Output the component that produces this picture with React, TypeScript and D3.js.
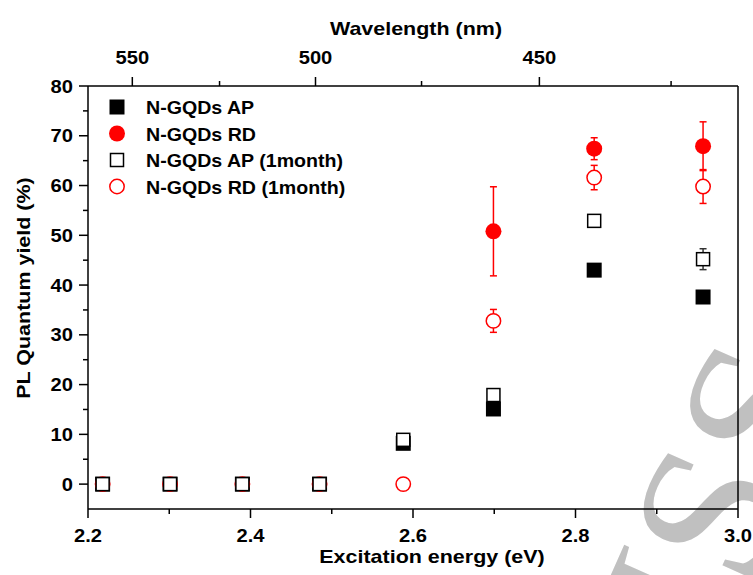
import React from "react";
import * as d3 from "d3";

// chart data
const energy = [2.218, 2.301, 2.39, 2.485, 2.588, 2.699, 2.823, 2.957];
const apFresh = [0, 0, 0, 0, 8.2, 15.1, 43.0, 37.6];
const rdFresh = [null, null, null, null, null, 50.8, 67.4, 67.9];
const rdFreshErr = [0, 0, 0, 0, 0, 8.95, 2.2, 4.9];
const apMonth = [0, 0, 0, 0, 8.9, 17.9, 52.9, 45.2];
const apMonthErr = [0, 0, 0, 0, 0, 0, 0, 2.1];
const rdMonth = [0, 0, 0, 0, 0, 32.8, 61.6, 59.8];
const rdMonthErr = [0, 0, 0, 0, 0, 2.3, 2.45, 3.4];

const energyTicks = [2.2, 2.4, 2.6, 2.8, 3.0];
const energyMinor = [2.3, 2.5, 2.7, 2.9];
const yieldTicks = [0, 10, 20, 30, 40, 50, 60, 70, 80];
const yieldMinor = [5, 15, 25, 35, 45, 55, 65, 75];
const waveTicks = [550, 500, 450];
const waveMinor = [525, 475, 425];
const legendLabels = ["N-GQDs AP", "N-GQDs RD", "N-GQDs AP (1month)", "N-GQDs RD (1month)"];

const W = 753;
const H = 575;
const margin = { top: 86, right: 15, bottom: 66, left: 88 };
const font = "'Liberation Sans', Arial, sans-serif";
const red = "#ff0000";

const x = d3.scaleLinear().domain([2.2, 3.0]).range([margin.left, W - margin.right]);
const y = d3.scaleLinear().domain([-5, 80]).range([H - margin.bottom, margin.top]);
const toEv = (nm: number) => 1240 / nm;

// text drawn slightly stretched, like the source image
const Label = ({ tx, ty, size, sx = 1.12, anchor = "middle", rot = 0, children }: any) => (
    <text
        transform={`translate(${tx},${ty}) rotate(${rot}) scale(${sx},1)`}
        textAnchor={anchor}
        fontFamily={font}
        fontWeight="bold"
        fontSize={size}
        fill="#000"
    >
        {children}
    </text>
);

const Marker = ({ kind, cx, cy }: any) => {
    if (kind === 0) return <rect x={cx - 7.5} y={cy - 7.5} width={15} height={15} fill="#000" />;
    if (kind === 1) return <circle cx={cx} cy={cy} r={8} fill={red} />;
    if (kind === 2)
        return <rect x={cx - 6.5} y={cy - 6.5} width={13} height={13} fill="#fff" stroke="#000" strokeWidth={1.5} />;
    return <circle cx={cx} cy={cy} r={7.2} fill="#fff" stroke={red} strokeWidth={1.5} />;
};

const ErrorBars = ({ values, errs, color }: any) => (
    <g stroke={color} strokeWidth={1.5}>
        {values.map((v: number | null, i: number) => {
            if (v === null || !errs[i]) return null;
            const cx = x(energy[i]);
            const y1 = y(v + errs[i]);
            const y2 = y(v - errs[i]);
            return (
                <g key={i}>
                    <line x1={cx} x2={cx} y1={y1} y2={y2} />
                    <line x1={cx - 3.5} x2={cx + 3.5} y1={y1} y2={y1} />
                    <line x1={cx - 3.5} x2={cx + 3.5} y1={y2} y2={y2} />
                </g>
            );
        })}
    </g>
);

const Series = ({ values, kind }: any) => (
    <g>
        {values.map((v: number | null, i: number) =>
            v === null ? null : <Marker key={i} kind={kind} cx={x(energy[i])} cy={y(v)} />
        )}
    </g>
);

export default function App() {
    const [x0, x1] = x.range();
    const [yb, yt] = y.range();
    const legendX = 117;
    const legendY = [107, 133.5, 160, 186.5];

    return (
        <svg width={W} height={H} style={{ position: "absolute", left: 0, top: 0, background: "#fff" }}>
            {/* watermark, behind everything */}
            <text
                transform="translate(722,655) rotate(-66)"
                fontFamily="'Liberation Serif', 'DejaVu Serif', serif"
                fontSize={205}
                fill="#c0c0c0"
            >
                ISS
            </text>

            {/* frame */}
            <g stroke="#000" strokeWidth={1.5} fill="none">
                <line x1={x0} x2={x1} y1={yb} y2={yb} />
                <line x1={x0} x2={x1} y1={yt} y2={yt} />
                <line x1={x0} x2={x0} y1={yb} y2={yt} />
                <line x1={x1} x2={x1} y1={yb} y2={yt} />

                {energyTicks.map((t) => (
                    <line key={t} x1={x(t)} x2={x(t)} y1={yb} y2={yb + 9} />
                ))}
                {energyMinor.map((t) => (
                    <line key={t} x1={x(t)} x2={x(t)} y1={yb} y2={yb + 5} />
                ))}
                {yieldTicks.map((t) => (
                    <line key={t} x1={x0 - 9} x2={x0} y1={y(t)} y2={y(t)} />
                ))}
                {yieldMinor.map((t) => (
                    <line key={t} x1={x0 - 5} x2={x0} y1={y(t)} y2={y(t)} />
                ))}
                {waveTicks.map((t) => (
                    <line key={t} x1={x(toEv(t))} x2={x(toEv(t))} y1={yt} y2={yt - 9} />
                ))}
                {waveMinor.map((t) => (
                    <line key={t} x1={x(toEv(t))} x2={x(toEv(t))} y1={yt} y2={yt - 5} />
                ))}
            </g>

            {/* tick labels */}
            {energyTicks.map((t) => (
                <Label key={t} tx={x(t)} ty={542} size={18}>
                    {t.toFixed(1)}
                </Label>
            ))}
            {yieldTicks.map((t) => (
                <Label key={t} tx={73} ty={y(t) + 6.5} size={18} anchor="end">
                    {t}
                </Label>
            ))}
            {waveTicks.map((t) => (
                <Label key={t} tx={x(toEv(t))} ty={64} size={18}>
                    {t}
                </Label>
            ))}

            {/* axis titles */}
            <Label tx={432} ty={563} size={19} sx={1.13}>
                Excitation energy (eV)
            </Label>
            <Label tx={416} ty={35} size={19} sx={1.13}>
                Wavelength (nm)
            </Label>
            <Label tx={30} ty={288} size={19} sx={1.13} rot={-90}>
                PL Quantum yield (%)
            </Label>

            {/* data */}
            <ErrorBars values={rdFresh} errs={rdFreshErr} color={red} />
            <ErrorBars values={rdMonth} errs={rdMonthErr} color={red} />
            <ErrorBars values={apMonth} errs={apMonthErr} color="#333" />
            <Series values={apFresh} kind={0} />
            <Series values={rdFresh} kind={1} />
            <Series values={rdMonth} kind={3} />
            <Series values={apMonth} kind={2} />

            {/* legend */}
            {legendLabels.map((l, i) => (
                <g key={l}>
                    <Marker kind={i} cx={legendX} cy={legendY[i]} />
                    <Label tx={146} ty={legendY[i] + 7} size={18.5} sx={1.06} anchor="start">
                        {l}
                    </Label>
                </g>
            ))}
        </svg>
    );
}
